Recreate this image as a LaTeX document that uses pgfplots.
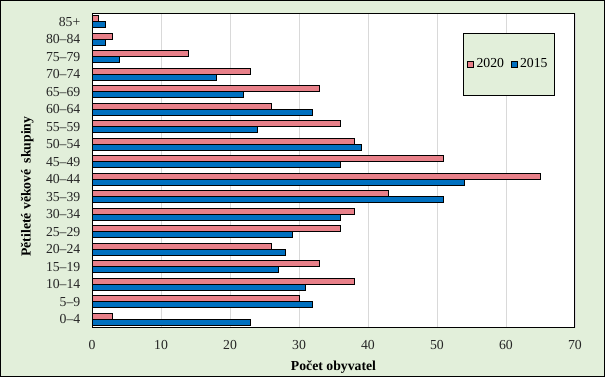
\documentclass[border=0pt]{standalone}
\usepackage{fontspec}
\setmainfont{Liberation Serif}
\usepackage{pgfplots}
\pgfplotsset{compat=1.18}
\definecolor{bgGreen}{RGB}{226,239,218}
\definecolor{barPink}{RGB}{232,128,137}
\definecolor{barBlue}{RGB}{0,112,192}
\begin{document}
\begin{tikzpicture}
\fill[bgGreen] (0pt,0pt) rectangle (453.75pt,282.75pt);
\draw[black,line width=0.75pt] (0.3pt,0.3pt) rectangle (453.45pt,282.45pt);
\begin{axis}[
  at={(69pt,36.75pt)}, anchor=south west,
  scale only axis,
  width=362.25pt, height=236.25pt,
  xbar, bar width=4.5pt,
  xmin=0, xmax=70,
  ymin=-0.5, ymax=17.5,
  xtick={0,10,...,70},
  ytick={0,...,17},
  yticklabels={0–4,5–9,10–14,15–19,20–24,25–29,30–34,35–39,40–44,45–49,50–54,55–59,60–64,65–69,70–74,75–79,80–84,85+},
  tick style={draw=none},
  xmajorgrids, grid style={gray!30, line width=0.6pt},
  axis background/.style={fill=white},
  axis line style={black, line width=0.75pt},
  /pgf/number format/assume math mode=true,
  tick label style={font=\fontsize{10.3}{12}\selectfont, text=black!85},
  xticklabel style={yshift=-6pt},
  yticklabel style={xshift=-1pt},
  xlabel={\textbf{Počet obyvatel}},
  ylabel={\textbf{Pětileté věkové\hspace{0.45em}skupiny}},
  label style={font=\fontsize{10.3}{12}\selectfont},
  xlabel style={yshift=-1pt},
  ylabel style={yshift=2.5pt, xshift=-12pt},
  legend columns=2,
  legend style={at={(0.768,0.937)}, anchor=north west, fill=bgGreen, draw=black, line width=0.6pt,
    inner xsep=3pt, inner ysep=17pt, font=\fontsize{10.3}{12}\selectfont,
    /tikz/every even column/.append style={column sep=3pt}},
  legend image code/.code={\draw[#1, line width=0.5pt] (0pt,-2.2pt) rectangle (4.5pt,2.2pt);},
]
\addplot[fill=barPink, draw=black, line width=0.75pt, bar shift=2.25pt] coordinates {
(3,0) (30,1) (38,2) (33,3) (26,4) (36,5) (38,6) (43,7) (65,8) (51,9) (38,10) (36,11) (26,12) (33,13) (23,14) (14,15) (3,16) (1,17)};
\addlegendentry{2020}
\addplot[fill=barBlue, draw=black, line width=0.75pt, bar shift=-2.25pt] coordinates {
(23,0) (32,1) (31,2) (27,3) (28,4) (29,5) (36,6) (51,7) (54,8) (36,9) (39,10) (24,11) (32,12) (22,13) (18,14) (4,15) (2,16) (2,17)};
\addlegendentry{2015}
\end{axis}
\end{tikzpicture}
\end{document}
